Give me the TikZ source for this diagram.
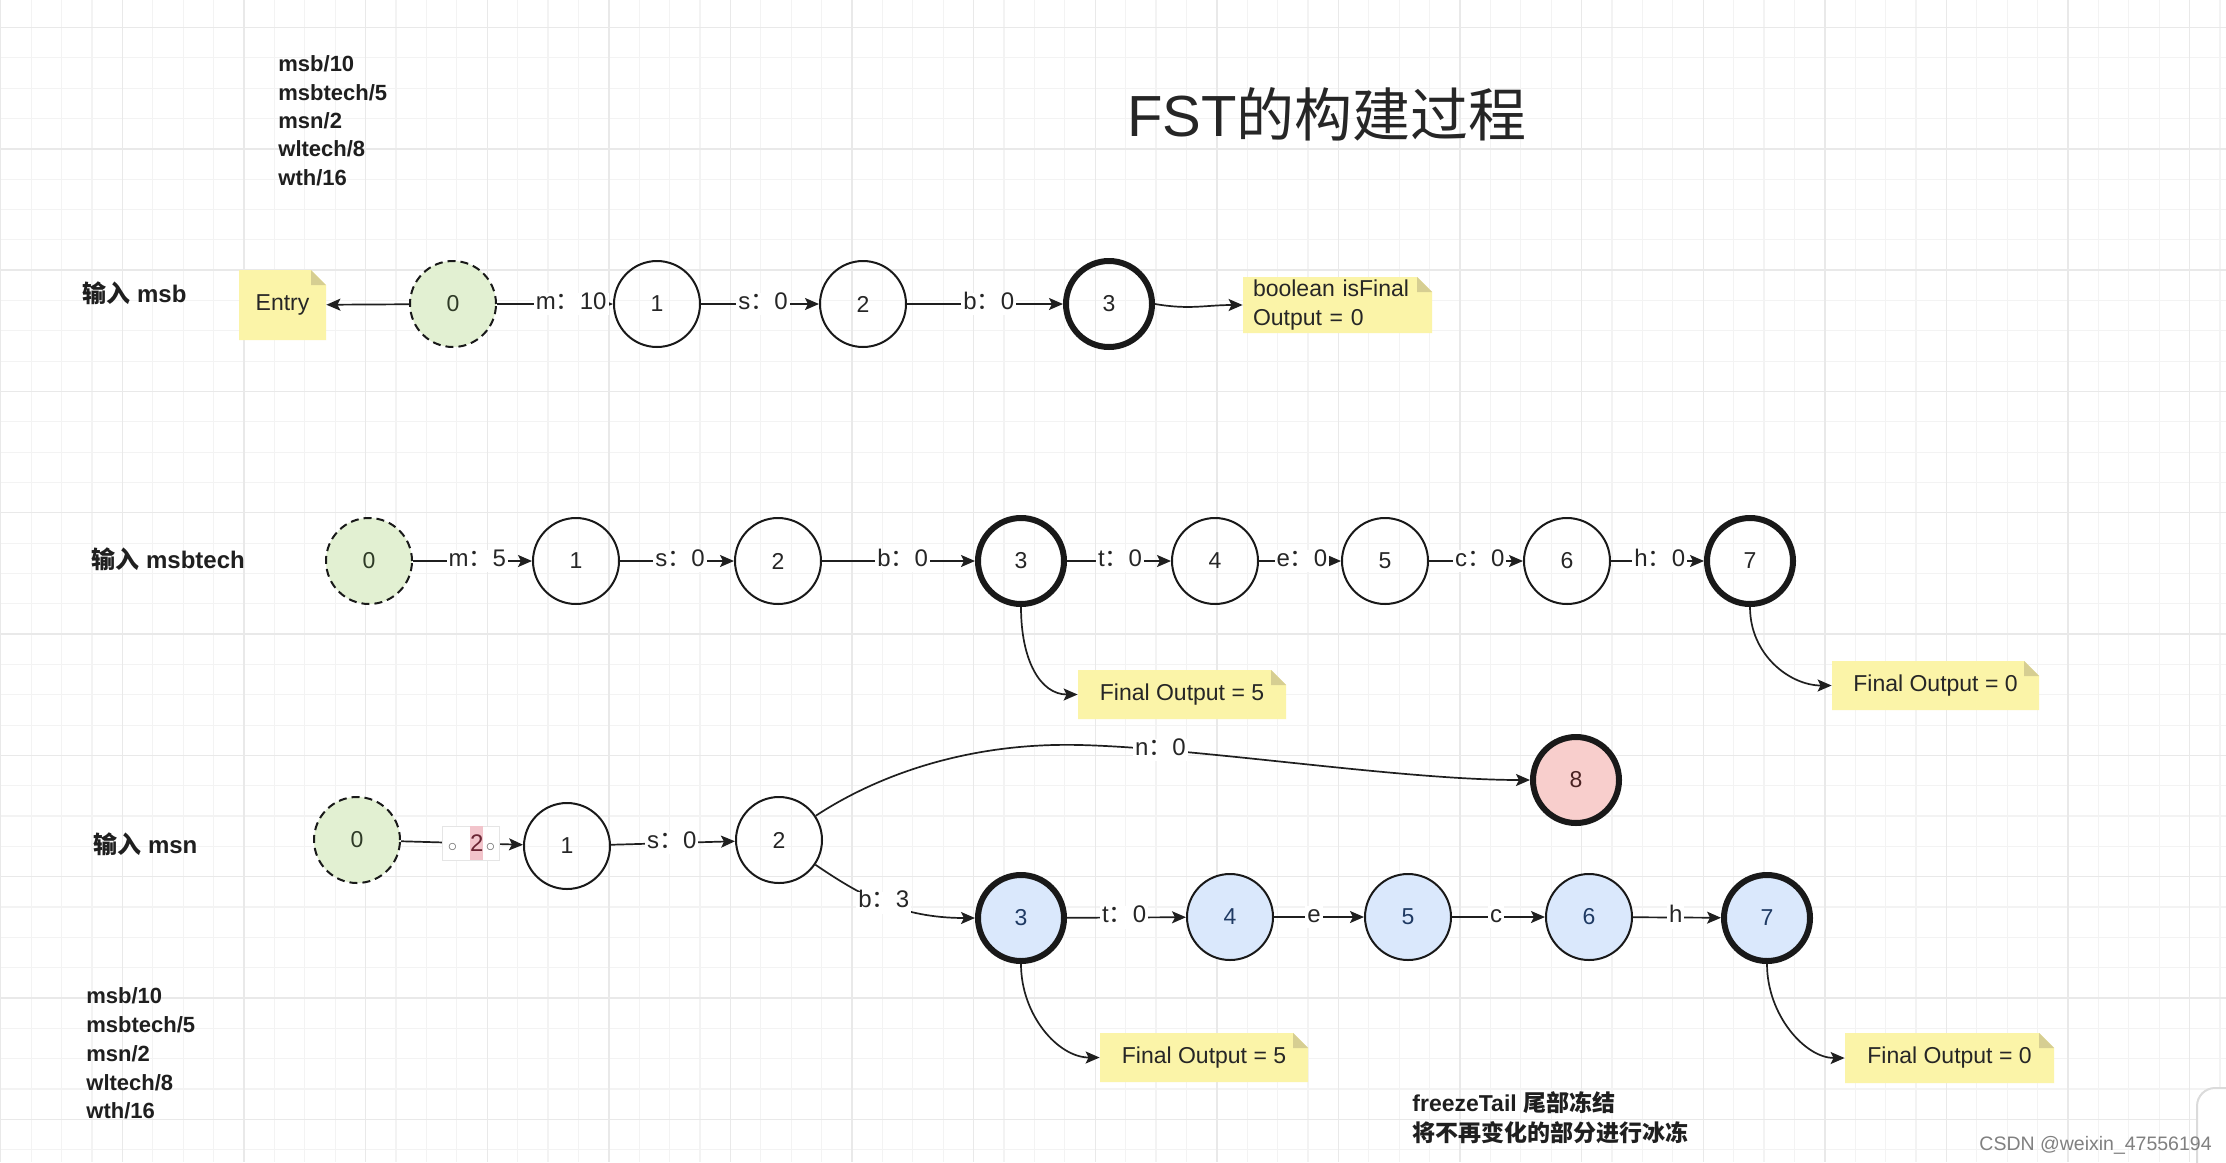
\documentclass[tikz,border=0pt]{standalone}
\usepackage{fontspec}
\setmainfont{Liberation Sans}
\newfontfamily\cjk{Noto Sans CJK SC}
\usetikzlibrary{arrows.meta}
\definecolor{gridminor}{HTML}{F3F3F3}
\definecolor{gridmajor}{HTML}{E9E9E9}
\definecolor{greenfill}{HTML}{E2F0D2}
\definecolor{bluefill}{HTML}{DAE8FC}
\definecolor{pinkfill}{HTML}{F8CECC}
\definecolor{notefill}{HTML}{FBF4A8}
\definecolor{foldfill}{HTML}{D6CE92}
\definecolor{bluetext}{HTML}{1F3A63}
\definecolor{pinktext}{HTML}{4A2222}
\definecolor{greentext}{HTML}{2E3A26}
\definecolor{pinkhl}{HTML}{F2C4CB}
\definecolor{hltext}{HTML}{6A2433}
\tikzset{
  stnode/.style={circle, draw=black!90, line width=1pt, minimum size=43pt, inner sep=0pt,
    font=\fontsize{11.5}{13}\selectfont, text=black!85},
  finnode/.style={stnode, line width=3pt},
  ininode/.style={stnode, fill=greenfill, dash pattern=on 4pt off 2.5pt, text=greentext},
  blunode/.style={stnode, fill=bluefill, text=bluetext},
  pnknode/.style={stnode, line width=3pt, fill=pinkfill, text=pinktext},
  arw/.style={-{Stealth[length=7pt,width=6pt,inset=1.5pt]}, line width=0.85pt, draw=black!88},
  elbl/.style={fill=white, inner sep=1pt, text height=0.72em, text depth=0.2em,
    font=\fontsize{12}{14}\selectfont, text=black!85},
  notebox/.style={rectangle, inner sep=0pt, font=\fontsize{11.5}{14.5}\selectfont, text=black!85,
    path picture={
      \fill[notefill] (path picture bounding box.south west) -- (path picture bounding box.north west)
        -- ([xshift=-7.5pt]path picture bounding box.north east)
        -- ([yshift=-7.5pt]path picture bounding box.north east)
        -- (path picture bounding box.south east) -- cycle;
      \fill[foldfill] ([xshift=-7.5pt]path picture bounding box.north east)
        -- ([xshift=-7.5pt,yshift=-7.5pt]path picture bounding box.north east)
        -- ([yshift=-7.5pt]path picture bounding box.north east) -- cycle;
    }},
  sidetxt/.style={anchor=base west, inner sep=0pt, font=\bfseries\fontsize{11}{13}\selectfont, text=black!88},
  rowtxt/.style={anchor=base west, inner sep=0pt, font=\bfseries\fontsize{12}{14}\selectfont, text=black!88},
  frztxt/.style={anchor=base west, inner sep=0pt, font=\bfseries\fontsize{11.5}{14}\selectfont, text=black!88},
}
\begin{document}
\begin{tikzpicture}[x=0.5pt,y=-0.5pt]
\useasboundingbox (0,0) rectangle (2226,1162);
\clip (0,0) rectangle (2226,1162);
\fill[white] (0,0) rectangle (2226,1162);
% grid
\foreach \k in {0,...,73}{\draw[gridminor,line width=0.6pt] ({0.8+30.4*\k},0) -- ({0.8+30.4*\k},1162);}
\foreach \k in {0,...,37}{\draw[gridminor,line width=0.6pt] (0,{27.5+30.33*\k}) -- (2226,{27.5+30.33*\k});}
\foreach \k in {0,4,...,72}{\draw[gridmajor,line width=0.7pt] ({0.8+30.4*\k},0) -- ({0.8+30.4*\k},1162);}
\foreach \k in {0,4,...,36}{\draw[gridmajor,line width=0.7pt] (0,{27.5+30.33*\k}) -- (2226,{27.5+30.33*\k});}
% right-edge artefact
\draw[black!14, line width=1pt, fill=white, rounded corners=9pt] (2197,1088) rectangle (2262,1210);

% title
\node[anchor=base west, inner sep=0pt, font=\fontsize{29}{33}\selectfont, text=black!85] (title) at (1127,136) {FST{\cjk 的构建过程}};

% word lists
\node[sidetxt] (ta) at (278,71.7) {msb/10};
\node[sidetxt] (tb) at (278,100) {msbtech/5};
\node[sidetxt] (tc) at (278,128.3) {msn/2};
\node[sidetxt] (td) at (278,156.6) {wltech/8};
\node[sidetxt] (te) at (278,185) {wth/16};
\node[sidetxt] (ba) at (86,1003) {msb/10};
\node[sidetxt] (bb) at (86,1032) {msbtech/5};
\node[sidetxt] (bc) at (86,1061) {msn/2};
\node[sidetxt] (bd) at (86,1090) {wltech/8};
\node[sidetxt] (be) at (86,1118) {wth/16};

% row labels
\node[rowtxt] (r1) at (82,302) {{\cjk 输入} msb};
\node[rowtxt] (r2) at (91,568) {{\cjk 输入} msbtech};
\node[rowtxt] (r3) at (93,853) {{\cjk 输入} msn};

% notes
\node[notebox, minimum width=43.5pt, minimum height=35pt] (entry) at (282.5,305) {Entry};
\node[notebox, minimum width=94.5pt, minimum height=28pt, text width=84.5pt, align=left] (isfin) at (1337.5,305) {boolean isFinal\\Output = 0};
\node[notebox, minimum width=104pt, minimum height=24.5pt] (fo5a) at (1182,694.5) {Final Output = 5};
\node[notebox, minimum width=103.5pt, minimum height=24.5pt] (fo0a) at (1935.5,685.5) {Final Output = 0};
\node[notebox, minimum width=104pt, minimum height=24.5pt] (fo5b) at (1204,1057.5) {Final Output = 5};
\node[notebox, minimum width=104.5pt, minimum height=25pt] (fo0b) at (1949.5,1058) {Final Output = 0};

% row 1
\node[ininode] (a0) at (453,304) {0};
\node[stnode] (a1) at (657,304) {1};
\node[stnode] (a2) at (863,304) {2};
\node[finnode] (a3) at (1109,304) {3};
\draw[arw] (a0) -- (entry);
\draw[arw] (a0) -- node[elbl,pos=0.64] {m{\cjk ：}10} (a1);
\draw[arw] (a1) -- node[elbl,pos=0.525] {s{\cjk ：}0} (a2);
\draw[arw] (a2) -- node[elbl,pos=0.524] {b{\cjk ：}0} (a3);
\draw[arw] (a3.east) .. controls (1190,310) and (1205,305) .. (isfin.west);

% row 2
\node[ininode] (b0) at (369,561) {0};
\node[stnode] (b1) at (576,561) {1};
\node[stnode] (b2) at (778,561) {2};
\node[finnode] (b3) at (1021,561) {3};
\node[stnode] (b4) at (1215,561) {4};
\node[stnode] (b5) at (1385,561) {5};
\node[stnode] (b6) at (1567,561) {6};
\node[finnode] (b7) at (1750,561) {7};
\draw[arw] (b0) -- node[elbl,pos=0.54] {m{\cjk ：}5} (b1);
\draw[arw] (b1) -- node[elbl,pos=0.526] {s{\cjk ：}0} (b2);
\draw[arw] (b2) -- node[elbl,pos=0.527] {b{\cjk ：}0} (b3);
\draw[arw] (b3) -- node[elbl,pos=0.51] {t{\cjk ：}0} (b4);
\draw[arw] (b4) -- node[elbl,pos=0.524] {e{\cjk ：}0} (b5);
\draw[arw] (b5) -- node[elbl,pos=0.54] {c{\cjk ：}0} (b6);
\draw[arw] (b6) -- node[elbl,pos=0.524] {h{\cjk ：}0} (b7);
\draw[arw] (b3.south) .. controls (1021,660) and (1040,694.5) .. (fo5a.west);
\draw[arw] (b7.south) .. controls (1750,655) and (1790,685.5) .. (fo0a.west);

% row 3
\node[ininode] (c0) at (357,840) {0};
\node[stnode] (c1) at (567,846) {1};
\node[stnode] (c2) at (779,840) {2};
\node[pnknode] (c8) at (1576,780) {8};
\node[blunode, line width=3pt] (d3) at (1021,918) {3};
\node[blunode] (d4) at (1230,917) {4};
\node[blunode] (d5) at (1408,917) {5};
\node[blunode] (d6) at (1589,917) {6};
\node[blunode, line width=3pt] (d7) at (1767,918) {7};
\draw[arw] (c0) -- node[fill=white, draw=black!10, line width=0.5pt, inner sep=0pt, minimum width=28.5pt, minimum height=17pt, pos=0.577]
  {\textcolor{black!55}{\fontsize{9}{9}\selectfont$\circ$}\hspace{6.5pt}{\setlength\fboxsep{0pt}\colorbox{pinkhl}{\rule[-4.5pt]{0pt}{17pt}\textcolor{hltext}{\fontsize{12}{14}\selectfont 2}}}\hspace{1.2pt}\textcolor{black!55}{\fontsize{9}{9}\selectfont$\circ$}} (c1);
\draw[arw] (c1) -- node[elbl,pos=0.49] {s{\cjk ：}0} (c2);
\draw[arw] (c2) .. controls (870,780) and (960,742) .. (1080,745)
  .. controls (1200,748) and (1400,780) .. (c8) node[elbl,pos=0.2] {n{\cjk ：}0};
\draw[arw] (c2) .. controls (860,895) and (900,918) .. (d3) node[elbl,pos=0.5] {b{\cjk ：}3};
\draw[arw] (d3) -- node[elbl,pos=0.48] {t{\cjk ：}0} (d4);
\draw[arw] (d4) -- node[elbl,pos=0.445] {e} (d5);
\draw[arw] (d5) -- node[elbl,pos=0.473] {c} (d6);
\draw[arw] (d6) -- node[elbl,pos=0.486] {h} (d7);
\draw[arw] (d3.south) .. controls (1021,1015) and (1058,1057.5) .. (fo5b.west);
\draw[arw] (d7.south) .. controls (1767,1015) and (1805,1058) .. (fo0b.west);

% freeze text
\node[frztxt] (fz1) at (1412,1111) {freezeTail {\cjk 尾部冻结}};
\node[frztxt] (fz2) at (1412,1141) {{\cjk 将不再变化的部分进行冰冻}};

% watermark
\node[anchor=base west, inner sep=0pt, font=\fontsize{9.75}{11}\selectfont, text=black!50] (wm) at (1979,1150) {CSDN @weixin\_47556194};
\end{tikzpicture}
\end{document}
